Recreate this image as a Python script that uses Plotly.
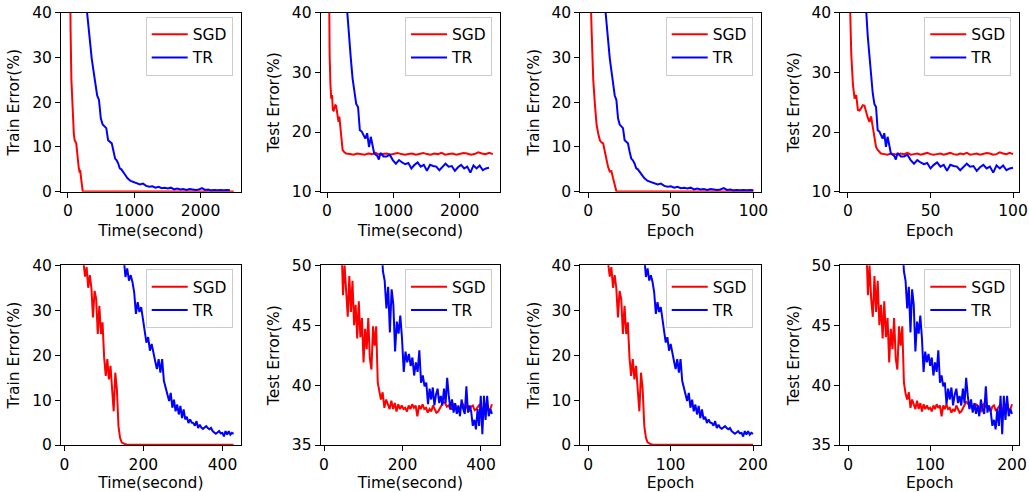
import numpy as np
import plotly.graph_objects as go

# ------------------------------------------------------------------ data
# Top row (100 epochs)
TOP_SGD_EPOCH = list(range(0, 21)) + list(range(22, 101, 2))
TOP_SGD_TRAIN = [
    85, 50, 36, 25, 19.5, 15, 13, 11.5, 11, 10.8,
    9, 6.8, 5.5, 4.5, 4.6, 3.0, 1.5, 0.1, 0.05, 0.03,
    0.02,
    0.02, 0.02, 0.02, 0.02, 0.02, 0.02, 0.02, 0.02, 0.02, 0.02,
    0.02, 0.02, 0.02, 0.02, 0.02, 0.02, 0.02, 0.02, 0.02, 0.02,
    0.02, 0.02, 0.02, 0.02, 0.02, 0.02, 0.02, 0.02, 0.02, 0.02,
    0.02, 0.02, 0.02, 0.02, 0.02, 0.02, 0.02, 0.02, 0.02, 0.02,
]
TOP_SGD_TEST = [
    70, 44, 33, 28, 25.6, 26.2, 23.7, 23.6, 24.0, 24.5,
    24.4, 23.2, 22.4, 21.7, 22.6, 20.9, 19.0, 17.5, 17.0, 16.6,
    16.4,
    16.3, 16.2, 16.4, 16.3, 16.2, 16.4, 16.3, 16.5, 16.2, 16.3,
    16.4, 16.2, 16.3, 16.5, 16.3, 16.2, 16.3, 16.4, 16.2, 16.3,
    16.5, 16.3, 16.2, 16.4, 16.3, 16.5, 16.2, 16.3, 16.4, 16.2,
    16.3, 16.5, 16.4, 16.2, 16.3, 16.6, 16.4, 16.3, 16.5, 16.3,
]
TOP_TR_EPOCH = list(range(9, 31)) + list(range(32, 101, 2))
TOP_TR_TRAIN = [
    46, 42, 37, 33, 29.8, 27, 24.2, 21.5, 20.5, 16.4,
    15, 14.5, 14.2, 11.5, 11.2, 10.8, 9, 7.4, 7, 6.3,
    5.2, 5.0,
    4.0, 3.0, 2.4, 2.1, 1.9, 1.6, 1.8, 1.3, 1.1, 1.2,
    0.9, 1.1, 0.8, 0.9, 0.7, 0.9, 0.5, 0.7, 0.5, 0.6,
    0.4, 0.6, 0.5, 0.4, 0.5, 0.8, 0.4, 0.5, 0.3, 0.4,
    0.3, 0.4, 0.3, 0.4, 0.3,
]
TOP_TR_TEST = [
    45, 42, 40.5, 36, 32.5, 29, 26.5, 24.7, 24.2, 20.3,
    20.1, 19.5, 18.9, 19.8, 17.5, 19.2, 17.5, 16.4, 16.2, 16.0,
    15.4, 16.5,
    15.9, 15.9, 16.2, 15.3, 14.7, 15.3, 14.9, 14.6, 14.8, 13.9,
    14.5, 14.9, 14.2, 14.5, 13.5, 14.5, 14.3, 14.2, 13.6, 14.2,
    14.7, 14.2, 14.3, 13.5, 14.1, 14.5, 13.9, 14.2, 13.2, 14.4,
    13.9, 14.4, 13.6, 13.9, 14.0,
]

# Bottom row (200 epochs)
BOT_SGD_EPOCH = list(range(22, 201, 2))
BOT_SGD_TRAIN = [
    44,
    40, 37.5, 39.6, 35, 37.8, 35, 28.4, 34.3, 32.5, 24.7,
    31, 24.7, 27.3, 19.5, 15.4, 19.1, 14.6, 17.6, 12.4, 7.5,
    16.1, 12.4, 4.2, 1.6, 0.6, 0.3, 0.15, 0.1,
    0.05, 0.05, 0.05, 0.05, 0.05, 0.05, 0.05, 0.05, 0.05, 0.05,
    0.05, 0.05, 0.05, 0.05, 0.05, 0.05, 0.05, 0.05, 0.05, 0.05,
    0.05, 0.05, 0.05, 0.05, 0.05, 0.05, 0.05, 0.05, 0.05, 0.05,
    0.05, 0.05, 0.05, 0.05, 0.05, 0.05, 0.05, 0.05, 0.05, 0.05,
    0.05, 0.05, 0.05, 0.05, 0.05, 0.05, 0.05, 0.05, 0.05, 0.05,
    0.05, 0.05, 0.05, 0.05, 0.05, 0.05, 0.05, 0.05, 0.05, 0.05,
    0.05,
]
BOT_SGD_TEST = [
    52, 47.5, 50, 47.2, 45.7, 49.1, 46.1, 48.7, 45, 46.7,
    43.9, 47, 44, 45.6, 41.9, 44.7, 43, 45.6, 42.2, 41.3,
    44.9, 43.3, 44.9, 40.2, 39.3, 38.8, 39.4, 38.1, 38.8, 38.4,
    38.0, 38.7, 38.0, 38.5, 37.8, 38.4, 38.0, 38.3, 38.0, 38.1,
    37.8, 38.3, 38.0, 38.4, 38.1, 38.3, 37.4, 38.3, 38.0, 38.4,
    38.0, 38.1, 37.7, 38.0, 37.8, 38.3, 38.0, 37.7, 37.8, 38.1,
    38.3, 38.6, 38.5, 38.2, 38.3, 38.0, 38.0, 38.4, 38.3, 37.9,
    37.8, 38.2, 38.5, 38.1, 38.3, 38.0, 37.8, 38.2, 38.3, 37.9,
    38.0, 38.2, 38.4, 37.9, 38.1, 38.3, 38.5, 37.9, 38.0, 38.4,
]
BOT_TR_EPOCH = list(range(66, 201, 2))
BOT_TR_TRAIN = [
    46, 41, 37.4, 39.3, 36.6, 37.8, 36.3, 34, 29.2, 31.8,
    29.6, 30.7, 27.8, 25.1, 22.8, 24, 21, 22.5, 20.2, 18.7,
    16.9, 19.1, 16.1, 19.1, 14.3, 12.4, 11.3, 9.8, 11.6, 8.3,
    10.1, 7.5, 9, 6.8, 8.7, 6, 7.9, 5.7, 6.3, 4.9,
    5.7, 5.0, 4.9, 4.3, 5.3, 3.8, 4.5, 3.9, 3.6, 3.9,
    4.2, 3.8, 3.5, 3.8, 3.1, 2.8, 2.5, 2.8, 3.1, 2.6,
    2.7, 1.9, 3.1, 2.3, 3.1, 2.3, 2.7, 2.5,
]
BOT_TR_TEST = [
    52, 49.5, 48.7, 46.4, 48.2, 44.4, 48, 46.7, 42.8, 45.3,
    44.3, 45.8, 43.9, 41.1, 42.8, 41.9, 42.6, 41.6, 42.3, 40.8,
    41.9, 41.1, 42.9, 40.2, 40.8, 39.9, 40.2, 38.4, 39.7, 38.8,
    39.8, 38.3, 39.2, 39.7, 38.5, 39.1, 38.3, 39.7, 38.5, 40.6,
    39.1, 38.0, 38.8, 37.7, 38.5, 37.6, 38.3, 37.4, 38.8, 38.0,
    37.6, 39.9, 37.7, 38.3, 37.8, 36.6, 37.1, 36.3, 38.0, 36.6,
    39.1, 35.9, 39.1, 37.1, 39.1, 37.4, 38.0, 37.6,
]

# wall-clock seconds reached at given epochs
TOP_SGD_TIME_EP, TOP_SGD_TIME_S = [0, 18, 100], [15, 235, 2500]
TOP_TR_TIME_EP, TOP_TR_TIME_S = [0, 25, 100], [0, 688, 2442]
BOT_SGD_TIME_EP, BOT_SGD_TIME_S = [0, 72, 200], [0, 145, 428]
BOT_TR_TIME_EP, BOT_TR_TIME_S = [0, 120, 200], [0, 265, 428]

SERIES = ["SGD", "TR"]
COLORS = {"SGD": "#ff0000", "TR": "#0000ff"}


def to_time(ep, anchors_ep, anchors_s):
    return list(np.interp(ep, anchors_ep, anchors_s))


# ------------------------------------------------------------------ layout
W, H = 1029, 492
COL_X = [(61, 240.7), (320.7, 500), (580.3, 760.7), (840.3, 1019.3)]
ROW_Y = [(12.7, 191.7), (265.3, 445)]
FONT = "DejaVu Sans"
FS = 15.5

panels = [
    (0, 0, (to_time(TOP_SGD_EPOCH, TOP_SGD_TIME_EP, TOP_SGD_TIME_S), TOP_SGD_TRAIN),
     (to_time(TOP_TR_EPOCH, TOP_TR_TIME_EP, TOP_TR_TIME_S), TOP_TR_TRAIN),
     "Time(second)", "Train Error(%)", [-105, 2605], [0, 40], 1000, [0, 10, 20, 30, 40]),
    (0, 1, (to_time(TOP_SGD_EPOCH, TOP_SGD_TIME_EP, TOP_SGD_TIME_S), TOP_SGD_TEST),
     (to_time(TOP_TR_EPOCH, TOP_TR_TIME_EP, TOP_TR_TIME_S), TOP_TR_TEST),
     "Time(second)", "Test Error(%)", [-95, 2608], [10, 40], 1000, [10, 20, 30, 40]),
    (0, 2, (TOP_SGD_EPOCH, TOP_SGD_TRAIN), (TOP_TR_EPOCH, TOP_TR_TRAIN),
     "Epoch", "Train Error(%)", [-4.85, 104.4], [0, 40], 50, [0, 10, 20, 30, 40]),
    (0, 3, (TOP_SGD_EPOCH, TOP_SGD_TEST), (TOP_TR_EPOCH, TOP_TR_TEST),
     "Epoch", "Test Error(%)", [-4.65, 103.8], [10, 40], 50, [10, 20, 30, 40]),
    (1, 0, (to_time(BOT_SGD_EPOCH, BOT_SGD_TIME_EP, BOT_SGD_TIME_S), BOT_SGD_TRAIN),
     (to_time(BOT_TR_EPOCH, BOT_TR_TIME_EP, BOT_TR_TIME_S), BOT_TR_TRAIN),
     "Time(second)", "Train Error(%)", [-8.4, 446], [0, 40], 200, [0, 10, 20, 30, 40]),
    (1, 1, (to_time(BOT_SGD_EPOCH, BOT_SGD_TIME_EP, BOT_SGD_TIME_S), BOT_SGD_TEST),
     (to_time(BOT_TR_EPOCH, BOT_TR_TIME_EP, BOT_TR_TIME_S), BOT_TR_TEST),
     "Time(second)", "Test Error(%)", [-8.5, 448.5], [35, 50], 200, [35, 40, 45, 50]),
    (1, 2, (BOT_SGD_EPOCH, BOT_SGD_TRAIN), (BOT_TR_EPOCH, BOT_TR_TRAIN),
     "Epoch", "Train Error(%)", [-9.7, 209.3], [0, 40], 100, [0, 10, 20, 30, 40]),
    (1, 3, (BOT_SGD_EPOCH, BOT_SGD_TEST), (BOT_TR_EPOCH, BOT_TR_TEST),
     "Epoch", "Test Error(%)", [-9.7, 208.9], [35, 50], 100, [35, 40, 45, 50]),
]

fig = go.Figure()
layout = dict(
    width=W, height=H,
    margin=dict(l=0, r=0, t=0, b=0),
    paper_bgcolor="white", plot_bgcolor="white",
    font=dict(family=FONT, size=FS, color="black"),
)

for i, (r, c, sgd, tr, xt, yt, xr, yr, xd, ytv) in enumerate(panels, start=1):
    sx = "" if i == 1 else str(i)
    leg = "legend" if i == 1 else f"legend{i}"
    for name, (xs, ys) in zip(SERIES, [sgd, tr]):
        fig.add_trace(go.Scatter(
            x=xs, y=ys, mode="lines", name=name,
            line=dict(color=COLORS[name], width=2),
            xaxis="x" + sx, yaxis="y" + sx, legend=leg,
            showlegend=True,
        ))
    x0, x1 = COL_X[c]
    y0, y1 = ROW_Y[r]
    common = dict(
        showline=True, linecolor="black", linewidth=1, mirror=True,
        ticks="outside", ticklen=5, tickwidth=1, tickcolor="black",
        showgrid=False, zeroline=False, automargin=False,
        tickfont=dict(family=FONT, size=FS, color="black"),
    )
    layout["xaxis" + sx] = dict(
        common, domain=[x0 / W, x1 / W], range=xr, anchor="y" + sx,
        tickmode="linear", tick0=0, dtick=xd,
        title=dict(text=xt, standoff=5, font=dict(family=FONT, size=FS, color="black")),
    )
    layout["yaxis" + sx] = dict(
        common, domain=[1 - y1 / H, 1 - y0 / H], range=yr, anchor="x" + sx,
        tickmode="array", tickvals=ytv,
        title=dict(text=yt, standoff=8, font=dict(family=FONT, size=FS, color="black")),
    )
    layout[leg] = dict(
        x=(x1 - 8) / W, y=1 - (y0 + 4) / H, xanchor="right", yanchor="top",
        bgcolor="rgba(255,255,255,0.8)", bordercolor="#cccccc", borderwidth=1,
        font=dict(family=FONT, size=FS, color="black"),
        tracegroupgap=0, itemwidth=36,
    )

fig.update_layout(**layout)
fig.write_html(
    "out.html",
    config={"displayModeBar": False},
    post_script="document.body.style.margin='0px';document.body.style.overflow='hidden';",
)
